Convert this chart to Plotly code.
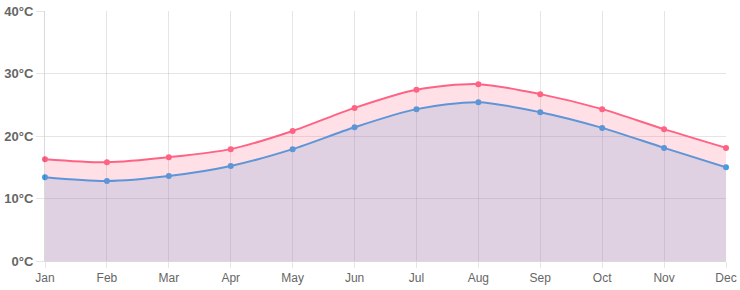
import plotly.graph_objects as go

months = ["Jan", "Feb", "Mar", "Apr", "May", "Jun", "Jul", "Aug", "Sep", "Oct", "Nov", "Dec"]
high_temps = [16.3, 15.8, 16.6, 17.9, 20.8, 24.5, 27.4, 28.3, 26.7, 24.3, 21.1, 18.1]
low_temps = [13.4, 12.8, 13.6, 15.2, 17.9, 21.4, 24.3, 25.4, 23.8, 21.3, 18.1, 15.0]
y_ticks = [0, 10, 20, 30, 40]
y_labels = [f"{v}°C" for v in y_ticks]

fig = go.Figure()
fig.add_trace(go.Scatter(
    x=months, y=low_temps, mode="lines+markers", name="Low",
    line=dict(color="rgb(54,162,235)", width=2, shape="spline", smoothing=0.8),
    marker=dict(size=6, color="rgb(54,162,235)"),
    fill="tozeroy", fillcolor="rgba(54,162,235,0.2)",
    cliponaxis=False,
))
fig.add_trace(go.Scatter(
    x=months, y=high_temps, mode="lines+markers", name="High",
    line=dict(color="rgb(255,99,132)", width=2, shape="spline", smoothing=0.8),
    marker=dict(size=6, color="rgb(255,99,132)"),
    fill="tozeroy", fillcolor="rgba(255,99,132,0.2)",
    cliponaxis=False,
))

fig.update_layout(
    width=740, height=290,
    margin=dict(l=45, r=14, t=11, b=29),
    paper_bgcolor="white", plot_bgcolor="white",
    showlegend=False,
    font=dict(family="Liberation Sans, Arial, sans-serif", color="#666"),
)
fig.update_xaxes(
    type="category", range=[0, 11], automargin=False,
    showgrid=True, gridcolor="rgba(0,0,0,0.1)", gridwidth=1,
    showline=True, linecolor="rgba(0,0,0,0.15)",
    ticks="outside", ticklen=6, tickcolor="rgba(0,0,0,0.1)",
    tickfont=dict(size=12, color="#666"),
    zeroline=False,
)
fig.update_yaxes(
    range=[0, 40], tickvals=y_ticks, ticktext=y_labels, automargin=False,
    showgrid=True, gridcolor="rgba(0,0,0,0.1)", gridwidth=1,
    showline=True, linecolor="rgba(0,0,0,0.15)",
    ticks="outside", ticklen=8, tickcolor="rgba(0,0,0,0.1)",
    tickfont=dict(size=13, color="#666", weight="bold"),
    zeroline=False,
)

fig.write_html("out.html")
